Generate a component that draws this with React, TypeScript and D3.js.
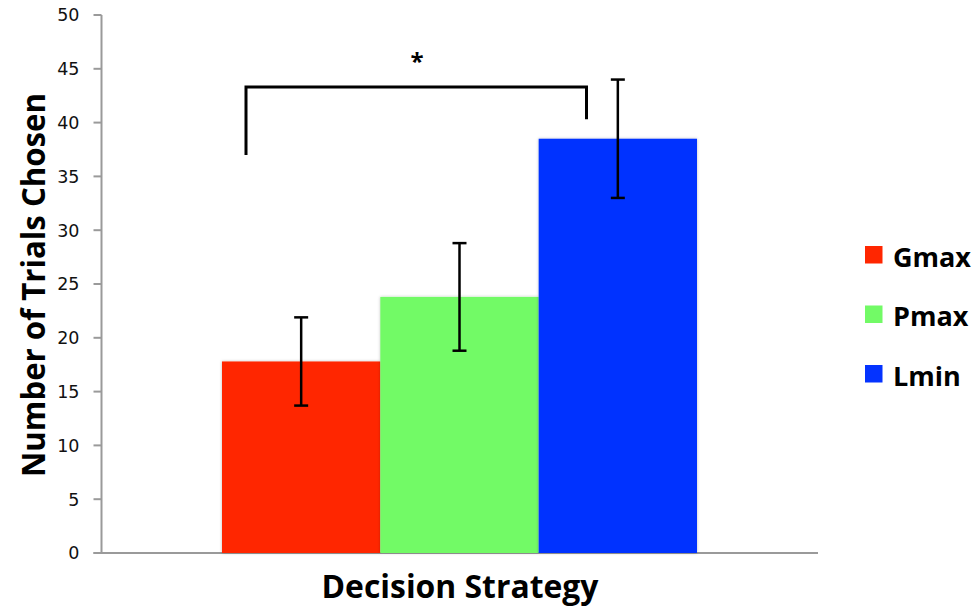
import React from "react";
import * as d3 from "d3";

const categories = ["Gmax", "Pmax", "Lmin"];
const values = [17.8, 23.8, 38.5];
const errors = [4.1, 5.0, 5.5];
const colors = ["#ff2600", "#72fa66", "#0433ff"];
const yTicks = [0, 5, 10, 15, 20, 25, 30, 35, 40, 45, 50];
const bracketLeft = 37;
const bracketRight = 40.3;
const bracketTop = 43.3;

export default function App() {
  const W = 977, H = 613;
  const x0 = 101.5, x1 = 818;
  const y = d3.scaleLinear().domain([0, 50]).range([553, 15]);
  const band = d3.scaleBand<string>().domain(categories).range([222, 697]).padding(0);
  const bw = band.bandwidth();
  const font = "'Open Sans', 'DejaVu Sans', sans-serif";
  const tickFont = "'DejaVu Sans', sans-serif";
  const capW = 7;
  return (
    <svg width={W} height={H} style={{ position: "absolute", left: 0, top: 0 }} fontFamily={font}>
      <defs>
        <filter id="sh" x="-5%" y="-5%" width="110%" height="110%">
          <feDropShadow dx="0" dy="0" stdDeviation="1.5" floodColor="#000" floodOpacity="0.25" />
        </filter>
      </defs>
      {/* axes */}
      <line x1={x0} x2={x0} y1={y(50)} y2={y(0)} stroke="#9a9a9a" strokeWidth={2} />
      <line x1={x0 - 8} x2={x1} y1={y(0)} y2={y(0)} stroke="#9a9a9a" strokeWidth={2} />
      {yTicks.map((t) => (
        <g key={t}>
          <line x1={x0 - 8} x2={x0} y1={y(t)} y2={y(t)} stroke="#9a9a9a" strokeWidth={2} />
          <text x={79.5} y={y(t)} dy="0.36em" textAnchor="end" fontSize={17.5} fill="#111" fontFamily={tickFont}>
            {t}
          </text>
        </g>
      ))}
      {/* bars */}
      {categories.map((c, i) => (
        <rect key={c} x={band(c)!} y={y(values[i])} width={bw} height={y(0) - y(values[i])} fill={colors[i]} filter="url(#sh)" />
      ))}
      {/* error bars */}
      {categories.map((c, i) => {
        const cx = band(c)! + bw / 2;
        const yt = y(values[i] + errors[i]);
        const yb = y(values[i] - errors[i]);
        return (
          <g key={c} stroke="#000" strokeWidth={2.5}>
            <line x1={cx} x2={cx} y1={yt} y2={yb} />
            <line x1={cx - capW} x2={cx + capW} y1={yt} y2={yt} />
            <line x1={cx - capW} x2={cx + capW} y1={yb} y2={yb} />
          </g>
        );
      })}
      {/* significance bracket */}
      <path
        d={`M${246},${y(bracketLeft)} V${y(bracketTop)} H${586.5} V${y(bracketRight)}`}
        fill="none"
        stroke="#000"
        strokeWidth={3}
      />
      <text x={417} y={70} textAnchor="middle" fontSize={24} fontWeight="bold">*</text>
      {/* legend */}
      {categories.map((c, i) => (
        <g key={c} transform={`translate(865, ${246 + i * 59.5})`}>
          <rect width={17.5} height={17.5} fill={colors[i]} />
          <text x={28} y={20.5} fontSize={27} fontWeight="bold">{c}</text>
        </g>
      ))}
      {/* axis titles */}
      <text x={460} y={597.5} textAnchor="middle" fontSize={33} fontWeight="bold" textLength={277} lengthAdjust="spacingAndGlyphs">
        Decision Strategy
      </text>
      <text
        transform={`translate(45, 285) rotate(-90)`}
        textAnchor="middle"
        fontSize={33}
        fontWeight="bold"
        textLength={384}
        lengthAdjust="spacingAndGlyphs"
      >
        Number of Trials Chosen
      </text>
    </svg>
  );
}
